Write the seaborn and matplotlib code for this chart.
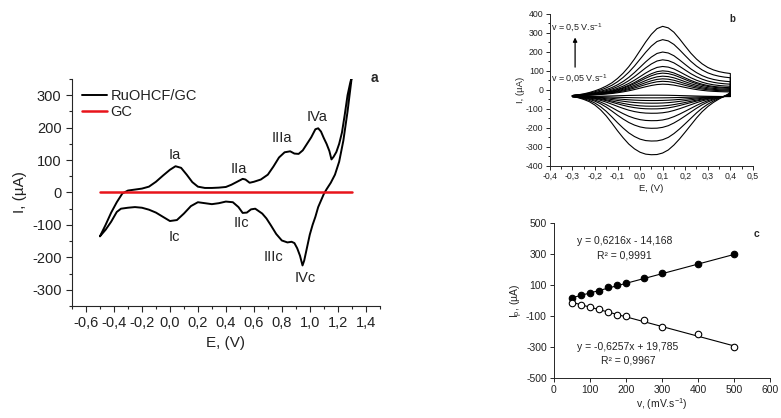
import numpy as np
import pandas as pd
import matplotlib
matplotlib.use('Agg')
import matplotlib.pyplot as plt
import seaborn as sns
from matplotlib.ticker import MultipleLocator, FuncFormatter

sns.set_style('ticks')
plt.rcParams['font.family'] = ['Liberation Sans', 'DejaVu Sans']
plt.rcParams['mathtext.fontset'] = 'custom'
plt.rcParams['mathtext.rm'] = 'Liberation Sans'
plt.rcParams['mathtext.it'] = 'Liberation Sans'
plt.rcParams['axes.unicode_minus'] = False

# --- panel a : CV of RuOHCF/GC vs bare GC
a_E_an = [-0.50, -0.46, -0.42, -0.38, -0.34, -0.30, -0.25, -0.20, -0.15, -0.10, -0.05, 0.00,
          0.04, 0.08, 0.12, 0.16, 0.20, 0.25, 0.30, 0.35, 0.40, 0.44, 0.48, 0.52, 0.54, 0.57,
          0.60, 0.65, 0.70, 0.74, 0.78, 0.82, 0.86, 0.89, 0.92, 0.95, 0.98, 1.01, 1.04, 1.06,
          1.08, 1.10, 1.12, 1.14, 1.155, 1.17, 1.19, 1.21, 1.23, 1.25, 1.27, 1.29, 1.30]
a_I_an = [-135, -100, -62, -30, -3, 6, 9, 12, 18, 33, 52, 70,
          81, 76, 55, 32, 18, 14, 14, 15, 17, 24, 33, 42, 40, 30,
          33, 40, 55, 80, 108, 124, 127, 120, 119, 130, 150, 170, 195, 198,
          188, 168, 150, 128, 102, 110, 125, 150, 185, 240, 300, 340, 355]
a_E_ca = [1.30, 1.27, 1.24, 1.21, 1.18, 1.15, 1.12, 1.10, 1.08, 1.06, 1.04, 1.02, 1.00,
          0.98, 0.96, 0.948, 0.93, 0.91, 0.89, 0.87, 0.84, 0.80, 0.76, 0.72, 0.69, 0.66,
          0.61, 0.58, 0.55, 0.52, 0.49, 0.45, 0.40, 0.35, 0.30, 0.25, 0.20, 0.15, 0.10,
          0.05, 0.00, -0.05, -0.10, -0.15, -0.20, -0.25, -0.30, -0.35, -0.38, -0.42, -0.46, -0.50]
a_I_ca = [355, 250, 160, 95, 55, 30, 10, -5, -25, -45, -75, -100, -130,
          -170, -210, -225, -195, -172, -156, -152, -154, -148, -128, -100, -80, -65,
          -50, -52, -62, -63, -45, -30, -28, -33, -36, -33, -30, -42, -65,
          -85, -88, -75, -62, -53, -47, -45, -47, -50, -60, -90, -115, -135]
gc_E = [-0.5, 1.3]
gc_I = [0, 0]
a_peaks = ['Ia', 'IIa', 'IIIa', 'IVa', 'Ic', 'IIc', 'IIIc', 'IVc']
a_peak_E = [0.035, 0.49, 0.80, 1.05, 0.03, 0.51, 0.74, 0.97]
a_peak_I = [115, 72, 167, 234, -137, -94, -199, -264]

# --- panel b : CVs at scan rates 0.05 .. 0.5 V/s
# outer (0.5 V/s) curve; inner curves follow its shape with their read peaks
b_E_an = [-0.300, -0.275, -0.250, -0.225, -0.200, -0.175, -0.150, -0.125, -0.100, -0.075,
          -0.050, -0.025, 0.000, 0.025, 0.050, 0.075, 0.100, 0.125, 0.150, 0.175,
          0.200, 0.225, 0.250, 0.275, 0.300, 0.325, 0.350, 0.375, 0.400]
b_I_an = [-30, -26, -21, -14, -5, 6, 20, 37, 60, 88,
          122, 162, 207, 252, 292, 322, 334, 326, 303, 268,
          230, 193, 162, 137, 118, 105, 96, 90, 86]
b_E_ca = [0.400, 0.390, 0.375, 0.350, 0.325, 0.300, 0.275, 0.250, 0.225, 0.200,
          0.175, 0.150, 0.125, 0.100, 0.075, 0.050, 0.025, 0.000, -0.025, -0.050,
          -0.075, -0.100, -0.125, -0.150, -0.175, -0.200, -0.225, -0.250, -0.275, -0.300]
b_I_ca = [-12, -22, -32, -48, -66, -88, -115, -148, -185, -222,
          -258, -290, -316, -332, -340, -341, -338, -328, -310, -285,
          -252, -215, -175, -137, -105, -80, -62, -50, -41, -35]
b_start_an = -30
b_start_ca = -35
b_ipa = [30, 45, 58, 72, 88, 100, 123, 158, 199, 264, 334]
b_ipc = [-28, -42, -56, -70, -86, -100, -123, -162, -202, -269, -341]

# --- panel c : peak currents vs scan rate
scan_rate = [50, 75, 100, 125, 150, 175, 200, 250, 300, 400, 500]
ipa = [16, 33, 50, 63, 85, 102, 113, 143, 180, 238, 300]
ipc = [-14, -29, -44, -57, -74, -91, -98, -128, -169, -218, -298]
fit_a = (0.6216, -14.168)
fit_c = (-0.6257, 19.785)


def comma(v, pos=None):
    v = round(v, 1)
    if v == 0:
        return '0,0'
    return f'{v:.1f}'.replace('.', ',')


fig = plt.figure(figsize=(7.81, 4.18), dpi=100)
txt = '#222222'

# ================= panel a
ax = fig.add_axes([0.0922, 0.268, 0.394, 0.543])
sns.lineplot(x=a_E_an + a_E_ca, y=a_I_an + a_I_ca, sort=False, estimator=None,
             color='black', lw=1.4, ax=ax, label='RuOHCF/GC')
sns.lineplot(x=gc_E, y=gc_I, sort=False, estimator=None, color='#e8141b', lw=1.8,
             ax=ax, label='GC')
ax.set_xlim(-0.7, 1.5)
ax.set_ylim(-350, 350)
ax.set_xticks(np.arange(-0.6, 1.41, 0.2))
ax.xaxis.set_minor_locator(MultipleLocator(0.1))
ax.xaxis.set_major_formatter(FuncFormatter(comma))
ax.yaxis.set_major_locator(MultipleLocator(100))
ax.yaxis.set_minor_locator(MultipleLocator(50))
ax.tick_params(axis='both', which='major', labelsize=10.5, length=4, width=0.8,
               direction='out', labelcolor=txt)
ax.tick_params(axis='both', which='minor', length=2.5, width=0.8, direction='out')
ax.set_xlabel('E, (V)', fontsize=11, color=txt)
ax.set_ylabel('I, (µA)', fontsize=11, color=txt)
sns.despine(ax=ax)
for n, e, i in zip(a_peaks, a_peak_E, a_peak_I):
    ax.text(e, i, n, fontsize=10.5, ha='center', va='center', color=txt)
ax.text(1.46, 352, 'a', fontsize=10, fontweight='bold', ha='center', va='center')
leg = ax.legend(loc='upper left', bbox_to_anchor=(0.0, 1.0), frameon=False, fontsize=10.5,
                handlelength=1.7, handletextpad=0.25, labelspacing=0.15, borderaxespad=0.3)
for t in leg.get_texts():
    t.set_color(txt)

# ================= panel b
bx = fig.add_axes([0.704, 0.603, 0.260, 0.364])
rows = []
for k, (pa, pc) in enumerate(zip(b_ipa, b_ipc)):
    ra = (pa - b_start_an) / (max(b_ipa) - b_start_an)
    rc = (pc - b_start_ca) / (min(b_ipc) - b_start_ca)
    for e, i in zip(b_E_an, b_I_an):
        rows.append((k, e, b_start_an + (i - b_start_an) * ra))
    for e, i in zip(b_E_ca, b_I_ca):
        rows.append((k, e, b_start_ca + (i - b_start_ca) * rc))
dfb = pd.DataFrame(rows, columns=['curve', 'E', 'I'])
sns.lineplot(data=dfb, x='E', y='I', units='curve', estimator=None, sort=False,
             color='black', lw=0.8, ax=bx)
bx.set_xlim(-0.4, 0.5)
bx.set_ylim(-400, 400)
bx.xaxis.set_major_locator(MultipleLocator(0.1))
bx.xaxis.set_minor_locator(MultipleLocator(0.05))
bx.xaxis.set_major_formatter(FuncFormatter(comma))
bx.yaxis.set_major_locator(MultipleLocator(100))
bx.yaxis.set_minor_locator(MultipleLocator(50))
bx.tick_params(axis='both', which='major', labelsize=6.3, length=3, width=0.7,
               direction='out', pad=1.5, labelcolor=txt)
bx.tick_params(axis='both', which='minor', length=1.8, width=0.7, direction='out')
bx.set_xlabel('E, (V)', fontsize=6.8, labelpad=2, color=txt)
bx.set_ylabel('I, (µA)', fontsize=6.8, labelpad=1, color=txt)
for s in ['left', 'bottom']:
    bx.spines[s].set_linewidth(0.7)
sns.despine(ax=bx)
bx.annotate('', xy=(-0.288, 290), xytext=(-0.288, 105),
            arrowprops=dict(arrowstyle='-|>', color='black', lw=0.9, mutation_scale=6))
bx.text(-0.395, 325, 'v = 0,5 V.s$^{-1}$', fontsize=6.5, ha='left', va='center', color=txt)
bx.text(-0.395, 55, 'v = 0,05 V.s$^{-1}$', fontsize=6.5, ha='left', va='center', color=txt)
bx.text(0.41, 370, 'b', fontsize=7, fontweight='bold', ha='center', va='center')

# ================= panel c
cx = fig.add_axes([0.709, 0.0957, 0.277, 0.371])
x_fit = np.array([min(scan_rate), max(scan_rate)])
sns.lineplot(x=x_fit, y=fit_a[0] * x_fit + fit_a[1], color='black', lw=0.8, ax=cx)
sns.lineplot(x=x_fit, y=fit_c[0] * x_fit + fit_c[1], color='black', lw=0.8, ax=cx)
sns.scatterplot(x=scan_rate, y=ipa, color='black', edgecolor='black', s=22, linewidth=0.8,
                ax=cx, zorder=3)
sns.scatterplot(x=scan_rate, y=ipc, color='white', edgecolor='black', s=22, linewidth=0.8,
                ax=cx, zorder=3)
cx.set_xlim(0, 600)
cx.set_ylim(-500, 500)
cx.set_xticks(np.arange(0, 601, 100))
cx.set_yticks(np.arange(-500, 501, 200))
cx.tick_params(axis='both', labelsize=7.5, length=3, width=0.7, direction='out', pad=2,
               labelcolor=txt)
cx.set_xlabel('v, (mV.s$^{-1}$)', fontsize=7.5, labelpad=1, color=txt)
cx.set_ylabel('I$_{\\rm p}$, (µA)', fontsize=7.5, labelpad=1, color=txt)
for s in ['left', 'bottom']:
    cx.spines[s].set_linewidth(0.7)
sns.despine(ax=cx)
cx.text(198, 382, 'y = 0,6216x - 14,168', fontsize=7.5, ha='center', va='center', color=txt)
cx.text(197, 291, 'R² = 0,9991', fontsize=7.5, ha='center', va='center', color=txt)
cx.text(206, -300, 'y = -0,6257x + 19,785', fontsize=7.5, ha='center', va='center', color=txt)
cx.text(206, -390, 'R² = 0,9967', fontsize=7.5, ha='center', va='center', color=txt)
cx.text(563, 427, 'c', fontsize=7.5, fontweight='bold', ha='center', va='center')

fig.savefig('out.png', dpi=100)
